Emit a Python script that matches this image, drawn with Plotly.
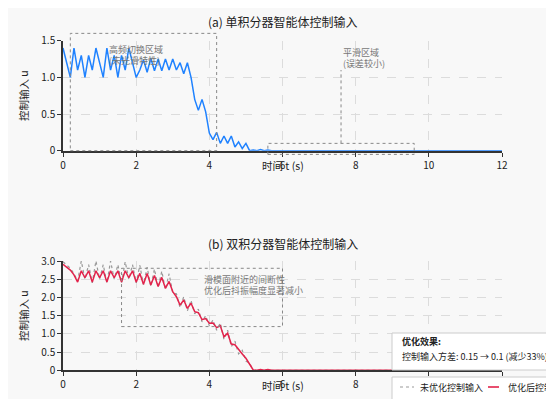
import plotly.graph_objects as go

# The page body has an 8 px margin; the figure fills the rest of the window.
OFF = 8
W, H = 554 - OFF, 399 - OFF

# ---------------- data ----------------
# (a) single integrator agent control input
t_a = [0.0, 0.1, 0.2, 0.3, 0.4, 0.5, 0.6, 0.7, 0.8, 0.9,
       1.0, 1.1, 1.2, 1.3, 1.4, 1.5, 1.6, 1.7, 1.8, 1.9,
       2.0, 2.1, 2.2, 2.3, 2.4, 2.5, 2.6, 2.7, 2.8, 2.9,
       3.0, 3.1, 3.2, 3.3, 3.4, 3.5, 3.6, 3.7, 3.8, 3.9,
       4.0, 4.1, 4.2, 4.3, 4.4, 4.5, 4.6, 4.7, 4.8, 4.9,
       5.0, 5.1, 5.2, 5.3, 5.4, 5.5, 5.6, 5.7, 12.0]
u_a = [1.40, 1.20, 1.00, 1.40, 1.10, 1.30, 1.00, 1.30, 1.10, 1.40,
       1.20, 1.00, 1.40, 1.10, 1.30, 1.00, 1.30, 1.10, 1.40, 1.20,
       1.00, 1.10, 1.24, 1.07, 1.26, 1.09, 1.25, 1.09, 1.25, 1.10,
       1.25, 1.10, 1.20, 1.05, 1.20, 1.00, 0.70, 0.55, 0.70, 0.53,
       0.24, 0.15, 0.25, 0.10, 0.20, 0.10, 0.20, 0.05, 0.12, 0.03,
       0.10, 0.00, 0.01, 0.00, 0.015, 0.00, 0.01, 0.00, 0.00]

# (b) double integrator agent control input
t_b = [0.0, 0.1, 0.2, 0.3, 0.4, 0.5, 0.6, 0.7, 0.8, 0.9,
       1.0, 1.1, 1.2, 1.3, 1.4, 1.5, 1.6, 1.7, 1.8, 1.9,
       2.0, 2.1, 2.2, 2.3, 2.4, 2.5, 2.6, 2.7, 2.8, 2.9,
       3.0, 3.1, 3.2, 3.3, 3.4, 3.5, 3.6, 3.7, 3.8, 3.9,
       4.0, 4.1, 4.2, 4.3, 4.4, 4.5, 4.6, 4.7, 4.8, 4.9,
       5.0, 5.1, 5.2, 5.3, 5.4, 5.5, 5.6, 5.7, 12.0]
u_b_opt = [2.91, 2.84, 2.75, 2.62, 2.42, 2.73, 2.54, 2.73, 2.42, 2.73,
           2.54, 2.73, 2.42, 2.73, 2.54, 2.73, 2.42, 2.73, 2.54, 2.73,
           2.42, 2.66, 2.36, 2.66, 2.34, 2.60, 2.30, 2.55, 2.25, 2.44,
           2.16, 2.02, 1.79, 1.93, 1.70, 1.84, 1.61, 1.58, 1.39, 1.42,
           1.29, 1.30, 1.17, 1.22, 0.92, 1.02, 0.72, 0.70, 0.56, 0.45,
           0.33, 0.17, 0.01, 0.00, 0.02, 0.00, 0.02, 0.00, 0.00]
u_b_raw = [2.98, 2.90, 2.80, 2.65, 2.45, 3.00, 2.50, 2.90, 2.40, 3.00,
           2.50, 2.90, 2.40, 3.00, 2.50, 2.90, 2.40, 2.98, 2.50, 2.90,
           2.40, 2.88, 2.35, 2.83, 2.30, 2.78, 2.27, 2.72, 2.22, 2.65,
           2.12, 2.10, 1.72, 2.02, 1.63, 1.92, 1.55, 1.68, 1.33, 1.50,
           1.22, 1.38, 1.10, 1.30, 0.85, 1.10, 0.65, 0.80, 0.45, 0.55,
           0.25, 0.20, 0.00, 0.00, 0.02, 0.00, 0.02, 0.00, 0.00]

series_names = ["未优化控制输入", "优化后控制输入"]

x_ticks = [0, 2, 4, 6, 8, 10, 12]
ya_ticks = [0, 0.5, 1.0, 1.5]
ya_text = ["0", "0.5", "1.0", "1.5"]
yb_ticks = [0, 0.5, 1.0, 1.5, 2.0, 2.5, 3.0]
yb_text = ["0", "0.5", "1.0", "1.5", "2.0", "2.5", "3.0"]


# ---------------- layout geometry (window pixels -> paper) ----------------
def fx(p):
    return (p - OFF) / W


def fy(p):
    return 1 - (p - OFF) / H


XD = [fx(63), fx(502)]
YD_A = [fy(150.7), fy(40.7)]
YD_B = [fy(370.3), fy(261.0)]
XR = [0, 12]
YR_A = [0, 1.5]
YR_B = [0, 3.0]


def px(t):
    return XD[0] + (XD[1] - XD[0]) * (t - XR[0]) / (XR[1] - XR[0])


def pya(u):
    return YD_A[0] + (YD_A[1] - YD_A[0]) * (u - YR_A[0]) / (YR_A[1] - YR_A[0])


def pyb(u):
    return YD_B[0] + (YD_B[1] - YD_B[0]) * (u - YR_B[0]) / (YR_B[1] - YR_B[0])


FONT = "Noto Sans CJK SC"
BG = "#f8f8f8"
AXC = "#333333"
GRAY_TXT = "#777777"
BOX = "#888888"
C_BLUE = "#1f82ff"
C_RAW = "#999999"
C_OPT = "#e3234b"

fig = go.Figure()
fig.add_trace(go.Scatter(x=t_a, y=u_a, mode="lines", xaxis="x", yaxis="y",
                         line=dict(color=C_BLUE, width=1.5),
                         showlegend=False, name="单积分器控制输入"))
fig.add_trace(go.Scatter(x=t_b, y=u_b_raw, mode="lines", xaxis="x2", yaxis="y2",
                         line=dict(color=C_RAW, width=1.2, dash="dot"),
                         name=series_names[0], showlegend=False))
fig.add_trace(go.Scatter(x=t_b, y=u_b_opt, mode="lines", xaxis="x2", yaxis="y2",
                         line=dict(color=C_OPT, width=1.5),
                         name=series_names[1], showlegend=False))

axis_common = dict(showline=True, linecolor=AXC, linewidth=1.6, ticks="outside",
                   ticklen=4, tickwidth=1.2, tickcolor=AXC, showgrid=True,
                   gridcolor="#dcdcdc", griddash="dash", gridwidth=0.8,
                   zeroline=False, tickfont=dict(family=FONT, size=10, color="#222222"),
                   mirror=False)

shapes = []
# (a) high-frequency switching region
shapes.append(dict(type="rect", xref="paper", yref="paper",
                   x0=px(0.2), x1=px(4.2), y0=pya(0.0), y1=pya(1.6),
                   line=dict(color=BOX, width=1, dash="dot"), layer="above"))
# (a) smooth region
shapes.append(dict(type="rect", xref="paper", yref="paper",
                   x0=px(5.6), x1=px(9.6), y0=pya(-0.05), y1=pya(0.1),
                   line=dict(color=BOX, width=1, dash="dot"), layer="above"))
shapes.append(dict(type="line", xref="paper", yref="paper",
                   x0=px(7.6), x1=px(7.6), y0=pya(0.1), y1=pya(1.1),
                   line=dict(color=BOX, width=1, dash="dot"), layer="above"))
# (b) chattering region
shapes.append(dict(type="rect", xref="paper", yref="paper",
                   x0=px(1.6), x1=px(6.0), y0=pyb(1.2), y1=pyb(2.8),
                   line=dict(color=BOX, width=1, dash="dot"), layer="above"))
# result box
shapes.append(dict(type="rect", xref="paper", yref="paper",
                   x0=fx(392), x1=fx(600), y0=fy(370), y1=fy(333),
                   fillcolor="white", line=dict(color="#cccccc", width=1), layer="above"))
# legend box and samples
shapes.append(dict(type="rect", xref="paper", yref="paper",
                   x0=fx(392), x1=fx(600), y0=fy(420), y1=fy(377),
                   fillcolor="white", line=dict(color="#cccccc", width=1), layer="above"))
shapes.append(dict(type="line", xref="paper", yref="paper",
                   x0=fx(400), x1=fx(414), y0=fy(387), y1=fy(387),
                   line=dict(color=C_RAW, width=1.2, dash="dot"), layer="above"))
shapes.append(dict(type="line", xref="paper", yref="paper",
                   x0=fx(488), x1=fx(499), y0=fy(387), y1=fy(387),
                   line=dict(color=C_OPT, width=1.6), layer="above"))

ann = []


def txt(x, y, s, size=9, color=GRAY_TXT, xanchor="left", angle=0):
    ann.append(dict(x=x, y=y, xref="paper", yref="paper", text=s, showarrow=False,
                    xanchor=xanchor, yanchor="middle", textangle=angle,
                    font=dict(family=FONT, size=size, color=color)))


txt(fx(282.5), fy(21), "(a) 单积分器智能体控制输入", size=12, color="#222222", xanchor="center")
txt(fx(282.5), fy(243), "(b) 双积分器智能体控制输入", size=12, color="#222222", xanchor="center")
txt(fx(23), fy(96), "控制输入 u", size=10.5, color="#222222", xanchor="center", angle=-90)
txt(fx(23), fy(316), "控制输入 u", size=10.5, color="#222222", xanchor="center", angle=-90)
txt(fx(283), fy(165), "时间 t (s)", size=10.5, color="#222222", xanchor="center")
txt(fx(283), fy(385), "时间 t (s)", size=10.5, color="#222222", xanchor="center")
txt(px(1.21), fy(49.5), "高频切换区域", size=9)
txt(px(1.21), fy(60.5), "(未光滑特性)", size=9)
txt(px(7.6), fy(52.5), "平滑区域", size=9)
txt(px(7.6), fy(63.5), "(误差较小)", size=9)
txt(px(3.8), fy(279.3), "滑模面附近的间断性", size=9)
txt(px(3.8), fy(290.7), "优化后抖振幅度显著减小", size=9)
txt(fx(400), fy(341), "<b>优化效果:</b>", size=9, color="#222222")
txt(fx(400), fy(356.5), "控制输入方差: 0.15 → 0.1 (减少33%)", size=9, color="#222222")
txt(fx(418), fy(387), series_names[0], size=9, color="#222222")
txt(fx(506), fy(387), series_names[1], size=9, color="#222222")

fig.update_layout(
    width=W, height=H,
    margin=dict(l=0, r=0, t=0, b=0, pad=0, autoexpand=False),
    paper_bgcolor=BG, plot_bgcolor=BG,
    font=dict(family=FONT, size=10, color="#222222"),
    xaxis=dict(domain=XD, range=XR, tickvals=x_ticks, anchor="y", **axis_common),
    yaxis=dict(domain=YD_A, range=YR_A, tickvals=ya_ticks, ticktext=ya_text,
               anchor="x", **axis_common),
    xaxis2=dict(domain=XD, range=XR, tickvals=x_ticks, anchor="y2", **axis_common),
    yaxis2=dict(domain=YD_B, range=YR_B, tickvals=yb_ticks, ticktext=yb_text,
                anchor="x2", **axis_common),
    shapes=shapes,
    annotations=ann,
    showlegend=False,
)

fig.write_html("out.html")
